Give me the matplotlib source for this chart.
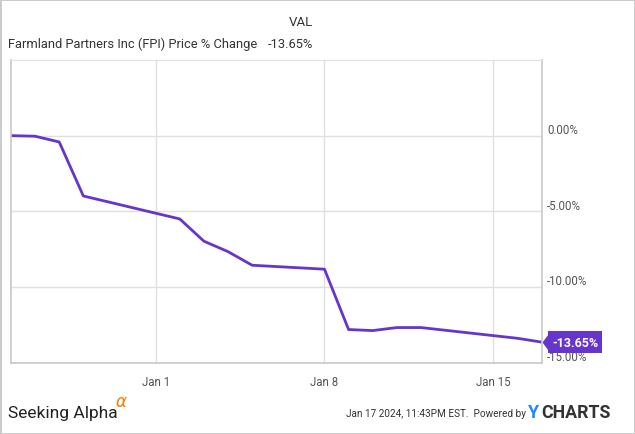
import numpy as np
import pandas as pd
import matplotlib.pyplot as plt
import matplotlib.dates as mdates
from matplotlib.transforms import offset_copy

dates = pd.to_datetime(['2023-12-26', '2023-12-27', '2023-12-28', '2023-12-29', '2024-01-02',
                        '2024-01-03', '2024-01-04', '2024-01-05', '2024-01-08', '2024-01-09',
                        '2024-01-10', '2024-01-11', '2024-01-12', '2024-01-16', '2024-01-17'])
pctChange = [0.0, -0.04, -0.42, -3.99, -5.51, -6.98, -7.67, -8.57, -8.83, -12.82,
             -12.89, -12.69, -12.69, -13.40, -13.65]
yTicks = [0, -5, -10, -15]
xTicks = pd.to_datetime(['2024-01-01', '2024-01-08', '2024-01-15'])
xTickLabels = ['Jan 1', 'Jan 8', 'Jan 15']

purple = '#6535CC'
plt.rcParams['font.family'] = ['Roboto', 'DejaVu Sans']

fig = plt.figure(figsize=(6.35, 4.35), dpi=100, edgecolor='#cccccc', linewidth=2)
ax = fig.add_axes([11 / 635, 1 - 363.5 / 435, 530.5 / 635, 302.5 / 435])

ax.plot(dates, pctChange, color=purple, linewidth=2, solid_joinstyle='round')
ax.set_xlim(dates[0], dates[-1])
ax.set_ylim(-15, 5)

ax.set_xticks(xTicks)
ax.set_xticklabels(xTickLabels)
ax.set_yticks(yTicks)
ax.set_yticklabels(['%.2f%%' % v for v in yTicks])
ax.yaxis.tick_right()
ax.tick_params(axis='both', length=0, labelsize=8.3, labelcolor='#555555')
ax.tick_params(axis='x', pad=9)
ax.tick_params(axis='y', pad=4)
for lab in ax.get_yticklabels():
    lab.set_transform(offset_copy(lab.get_transform(), fig=fig, x=0, y=6, units='dots'))
    lab.set_verticalalignment('center')

ax.grid(True, color='#e0e0e0', linewidth=1)
ax.set_axisbelow(True)
for side in ['left', 'bottom', 'right']:
    ax.spines[side].set_color('#c8c8c8')
    ax.spines[side].set_linewidth(1.2)
ax.spines['top'].set_color('#e0e0e0')

# last value tag
ax.plot([dates[-1]], [pctChange[-1]], marker=[(0, 0), (0.75, 1), (0.75, -1)], markersize=12.5,
        color=purple, markeredgewidth=0, clip_on=False)
ax.annotate('%.2f%%' % pctChange[-1], xy=(dates[-1], pctChange[-1]), xytext=(7.5, 0),
            textcoords='offset points', ha='left', va='center', color='white', fontsize=9,
            fontweight='bold', annotation_clip=False,
            bbox=dict(boxstyle='square,pad=0.35', fc=purple, ec='none'))

# header
fig.text(313 / 635, 1 - 23 / 435, 'VAL', ha='right', va='center', fontsize=9.5, color='#333333')
fig.text(8 / 635, 1 - 44 / 435, 'Farmland Partners Inc (FPI) Price % Change', ha='left', va='center',
         fontsize=9.3, color='#333333')
fig.text(313 / 635, 1 - 44 / 435, '%.2f%%' % pctChange[-1], ha='right', va='center',
         fontsize=9.3, color='#333333')

# footer
fig.text(8 / 635, 1 - 414 / 435, 'Seeking Alpha', ha='left', va='center', fontsize=12.5, color='#222222')
fig.text(115 / 635, 1 - 403 / 435, r'$\alpha$', ha='left', va='center', fontsize=12, color='#ff7a00')
fig.text(526 / 635, 1 - 414 / 435, 'Jan 17 2024, 11:43PM EST.  Powered by', ha='right', va='center',
         fontsize=7.2, color='#333333')
fig.text(528 / 635, 1 - 413 / 435, 'Y', ha='left', va='center', fontsize=13, fontweight='bold',
         color='#1a8cff')
fig.text(541 / 635, 1 - 413 / 435, 'CHARTS', ha='left', va='center', fontsize=12.8, fontweight='bold',
         color='#333333')

plt.savefig('out.png', dpi=100)
